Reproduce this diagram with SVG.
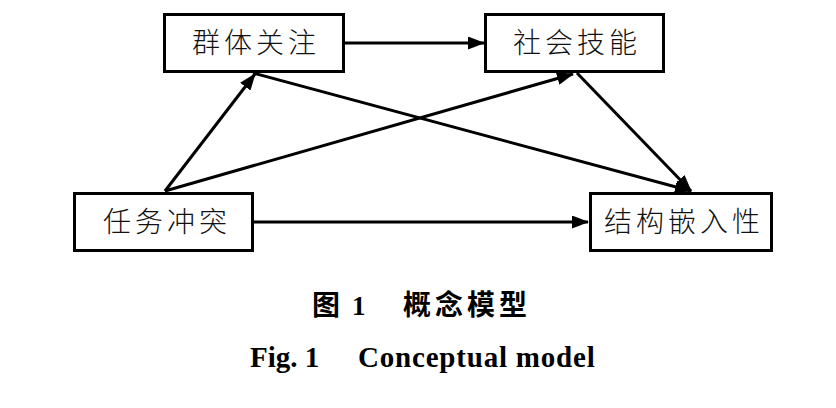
<svg xmlns="http://www.w3.org/2000/svg" width="836" height="408" viewBox="0 0 836 408">
<style>
.box{fill:#fff;stroke:#000;stroke-width:3}
.lbl{font-family:"Noto Sans CJK SC",sans-serif;font-size:28px;font-weight:300;letter-spacing:4px;fill:#111;text-anchor:middle}
.edge{stroke:#000;stroke-width:3;fill:none;marker-end:url(#ah)}
.cap{font-family:"Noto Sans CJK SC",sans-serif;font-size:28px;font-weight:bold;fill:#000}
.en{font-family:"Liberation Serif","Times New Roman",serif;font-weight:bold;fill:#000}
</style>
<defs>
<marker id="ah" markerUnits="userSpaceOnUse" markerWidth="17" markerHeight="13" refX="16" refY="6.5" orient="auto">
<path d="M0,0 L17,6.5 L0,13 z" fill="#000"/>
</marker>
</defs>
<rect width="836" height="408" fill="#fff"/>
<g id="connectors">
<line class="edge" x1="345" y1="43" x2="484" y2="43"/>
<line class="edge" x1="254" y1="222" x2="588" y2="222"/>
<line class="edge" x1="165" y1="191" x2="255" y2="74"/>
<line class="edge" x1="165" y1="191" x2="573" y2="74"/>
<line class="edge" x1="253" y1="73" x2="691" y2="191"/>
<line class="edge" x1="577" y1="73" x2="691" y2="191"/>
</g>
<g id="n1">
<rect class="box" x="164.5" y="14.5" width="179" height="57"/>
<text class="lbl" x="256" y="53">群体关注</text>
</g>
<g id="n2">
<rect class="box" x="485.5" y="14.5" width="178" height="57"/>
<text class="lbl" x="577" y="53">社会技能</text>
</g>
<g id="n3">
<rect class="box" x="74.5" y="193.5" width="178" height="57"/>
<text class="lbl" x="167" y="232">任务冲突</text>
</g>
<g id="n4">
<rect class="box" x="590.5" y="193.5" width="181" height="57"/>
<text class="lbl" x="684" y="232">结构嵌入性</text>
</g>
<g id="caption">
<text class="cap" x="312" y="315">图</text>
<text class="en" x="352" y="315" font-size="27">1</text>
<text class="cap" x="403" y="315" letter-spacing="4">概念模型</text>
<text class="en" x="250" y="367" font-size="29">Fig. 1</text>
<text class="en" x="358" y="367" font-size="29" letter-spacing="0.8">Conceptual model</text>
</g>
</svg>
